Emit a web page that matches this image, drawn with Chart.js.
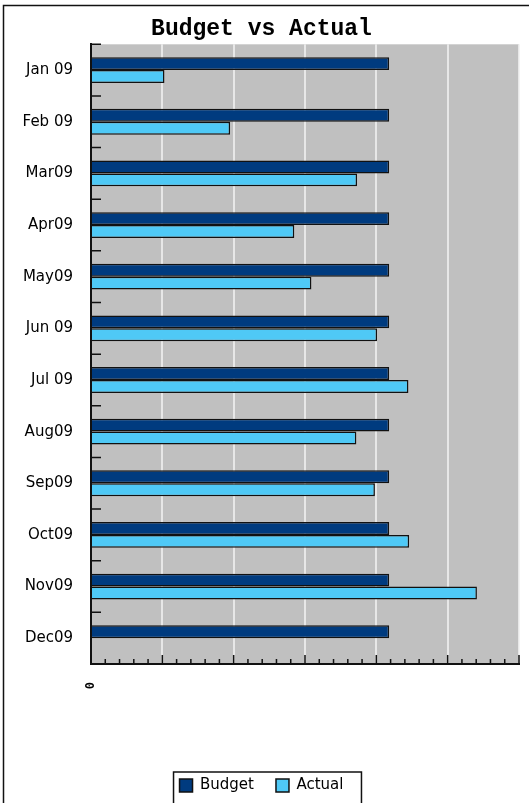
<!DOCTYPE html>
<html>
<head>
<meta charset="utf-8">
<script src="https://cdn.jsdelivr.net/npm/chart.js@4"></script>
<style>
  html, body { margin: 0; padding: 0; background: #fff; }
  #wrap { width: 529px; height: 803px; }
</style>
</head>
<body>
<div id="wrap"><canvas id="chart"></canvas></div>
<script>
const months = ['Jan 09', 'Feb 09', 'Mar09', 'Apr09', 'May09', 'Jun 09', 'Jul 09', 'Aug09', 'Sep09', 'Oct09', 'Nov09', 'Dec09'];
const budget = [41.8, 41.8, 41.8, 41.8, 41.8, 41.8, 41.8, 41.8, 41.8, 41.8, 41.8, 41.8];
const actual = [10.3, 19.5, 37.3, 28.5, 30.9, 40.1, 44.5, 37.2, 39.8, 44.6, 54.1, null];
const xMin = 0;
const xMax = 60;
const xStep = 2;
const xLabels = { 0: '0' }; // only the zero tick carries a label

// grey plot area
const plotBackground = {
    id: 'plotBackground',
    beforeDraw(chart) {
        const { ctx, chartArea: a } = chart;
        ctx.save();
        ctx.fillStyle = '#c0c0c0';
        ctx.fillRect(a.left, a.top, a.right - a.left, a.bottom - a.top);
        ctx.restore();
    }
};

// tick marks pointing into the plot
const innerTicks = {
    id: 'innerTicks',
    afterDatasetsDraw(chart) {
        const { ctx, scales: { x, y } } = chart;
        ctx.save();
        ctx.strokeStyle = '#111';
        ctx.lineWidth = 1.5;
        ctx.beginPath();
        x.ticks.forEach((t, i) => {
            const px = x.getPixelForValue(t.value);
            const len = i % 5 === 0 ? 9 : 5;
            ctx.moveTo(px, x.top);
            ctx.lineTo(px, x.top - len);
        });
        for (let i = 0; i < months.length; i++) {
            const py = y.getPixelForValue(i - 0.5);
            ctx.moveTo(y.right, py);
            ctx.lineTo(y.right + 10, py);
        }
        ctx.stroke();
        ctx.restore();
    }
};

// outer frame and box round the legend
const frames = {
    id: 'frames',
    afterDraw(chart) {
        const { ctx, legend } = chart;
        ctx.save();
        ctx.strokeStyle = '#111';
        ctx.lineWidth = 1.5;
        ctx.beginPath();
        ctx.moveTo(3.5, chart.height + 5);
        ctx.lineTo(3.5, 5.5);
        ctx.lineTo(chart.width + 5, 5.5);
        ctx.stroke();

        const boxes = legend.legendHitBoxes;
        if (boxes.length) {
            const left = Math.min(...boxes.map(b => b.left)) - 6;
            const right = Math.max(...boxes.map(b => b.left + b.width)) + 18;
            const top = boxes[0].top - 6;
            ctx.strokeRect(left, top, right - left, chart.height + 20 - top);
        }
        ctx.restore();
    }
};

const ctx = document.getElementById('chart').getContext('2d');

new Chart(ctx, {
    type: 'bar',
    data: {
        labels: months,
        datasets: [{
            label: 'Budget',
            data: budget,
            backgroundColor: '#003b7f',
            borderColor: '#111',
            borderWidth: 1.5,
            categoryPercentage: 0.5,
            barPercentage: 1
        }, {
            label: 'Actual',
            data: actual,
            backgroundColor: '#4fc9f6',
            borderColor: '#111',
            borderWidth: 1.5,
            categoryPercentage: 0.5,
            barPercentage: 1
        }]
    },
    options: {
        indexAxis: 'y',
        responsive: true,
        maintainAspectRatio: false,
        animation: false,
        layout: {
            padding: { left: 4, right: 10, top: 4, bottom: 0 }
        },
        plugins: {
            title: {
                display: true,
                text: 'Budget vs Actual',
                color: '#000',
                font: { family: 'Liberation Mono', size: 23, weight: 'bold', lineHeight: 1.1 },
                padding: { top: 13, bottom: 2 }
            },
            legend: {
                position: 'bottom',
                labels: {
                    color: '#000',
                    boxWidth: 13,
                    boxHeight: 13,
                    padding: 22,
                    font: { family: 'DejaVu Sans', size: 15 }
                }
            },
            tooltip: { enabled: false }
        },
        scales: {
            x: {
                min: xMin,
                max: xMax,
                ticks: {
                    stepSize: xStep,
                    autoSkip: false,
                    minRotation: 90,
                    maxRotation: 90,
                    padding: 18,
                    color: '#000',
                    font: { family: 'DejaVu Sans Mono', size: 12, weight: 'bold' },
                    callback: value => xLabels[value] || ''
                },
                grid: {
                    drawTicks: false,
                    lineWidth: 2,
                    color: c => (c.index > 0 && c.index % 5 === 0) ? 'rgba(240,240,240,0.8)' : 'transparent'
                },
                border: { color: '#111', width: 2 },
                afterFit(scale) {
                    scale.height = 92;
                    scale.paddingLeft = 0;
                    scale.paddingRight = 0;
                }
            },
            y: {
                ticks: {
                    padding: 18,
                    color: '#000',
                    font: { family: 'DejaVu Sans', size: 15 }
                },
                grid: { drawTicks: false, color: 'transparent' },
                border: { color: '#111', width: 2 },
                afterFit(scale) { scale.width = 87; }
            }
        }
    },
    plugins: [plotBackground, innerTicks, frames]
});
</script>
</body>
</html>
